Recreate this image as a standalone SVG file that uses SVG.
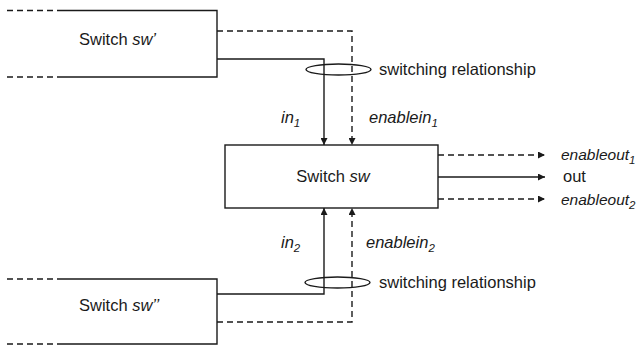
<svg xmlns="http://www.w3.org/2000/svg" width="640" height="345" viewBox="0 0 640 345">
  <style>
    .ln { stroke: #1a1a1a; stroke-width: 1.4; fill: none; }
    .dash { stroke-dasharray: 6 4; }
    .t { font-family: "Liberation Sans", Arial, sans-serif; font-size: 16.5px; fill: #1a1a1a; }
    .i { font-style: italic; }
    .sub { font-size: 11.5px; font-style: italic; }
    .eo { font-size: 15.5px; }
  </style>
  <defs>
    <marker id="arr" viewBox="0 0 10 10" refX="10" refY="5" markerWidth="7" markerHeight="7" markerUnits="userSpaceOnUse" orient="auto">
      <path d="M0,0 L10,5 L0,10 Z" fill="#1a1a1a"/>
    </marker>
  </defs>
  <rect width="640" height="345" fill="#ffffff"/>

  <!-- upstream switch sw' (open to the left) -->
  <g id="sw-prime">
    <path class="ln dash" d="M7,10.5 H62 M7,77 H62"/>
    <path class="ln" d="M62,10.5 H217 V77 H62"/>
    <text class="t" x="79" y="45">Switch <tspan class="i">sw’</tspan></text>
  </g>

  <!-- central switch sw -->
  <g id="sw">
    <rect class="ln" x="225" y="145" width="213" height="63"/>
    <text class="t" x="333" y="182" text-anchor="middle">Switch <tspan class="i">sw</tspan></text>
  </g>

  <!-- upstream switch sw'' (open to the left) -->
  <g id="sw-dprime">
    <path class="ln dash" d="M7,279 H62 M7,344 H62"/>
    <path class="ln" d="M62,279 H217 V344 H62"/>
    <text class="t" x="79" y="311">Switch <tspan class="i">sw’’</tspan></text>
  </g>

  <!-- connectors -->
  <g id="connectors">
    <path class="ln" d="M217,59 H324 V145" marker-end="url(#arr)"/>
    <path class="ln dash" d="M217,31 H352 V145" marker-end="url(#arr)"/>
    <path class="ln" d="M217,294 H324 V208" marker-end="url(#arr)"/>
    <path class="ln dash" d="M217,322 H352 V208" marker-end="url(#arr)"/>
    <path class="ln dash" d="M438,155 H545" marker-end="url(#arr)"/>
    <path class="ln" d="M438,177 H545" marker-end="url(#arr)"/>
    <path class="ln dash" d="M438,199 H545" marker-end="url(#arr)"/>
  </g>

  <!-- switching relationship groupings -->
  <g id="rel-top">
    <ellipse class="ln" cx="338.5" cy="69.5" rx="32.5" ry="5.5"/>
    <text class="t" x="379" y="75">switching relationship</text>
  </g>
  <g id="rel-bottom">
    <ellipse class="ln" cx="337.5" cy="282.5" rx="32.5" ry="5.5"/>
    <text class="t" x="379" y="288">switching relationship</text>
  </g>

  <!-- port labels -->
  <g id="labels">
    <text class="t i" x="281" y="123">in<tspan class="sub" dy="4">1</tspan></text>
    <text class="t i" x="369" y="123">enablein<tspan class="sub" dy="4">1</tspan></text>
    <text class="t i" x="281" y="248">in<tspan class="sub" dy="4">2</tspan></text>
    <text class="t i" x="366" y="248">enablein<tspan class="sub" dy="4">2</tspan></text>
    <text class="t i eo" x="561" y="160">enableout<tspan class="sub" dy="4">1</tspan></text>
    <text class="t" x="563" y="182">out</text>
    <text class="t i eo" x="561" y="205">enableout<tspan class="sub" dy="4">2</tspan></text>
  </g>
</svg>
